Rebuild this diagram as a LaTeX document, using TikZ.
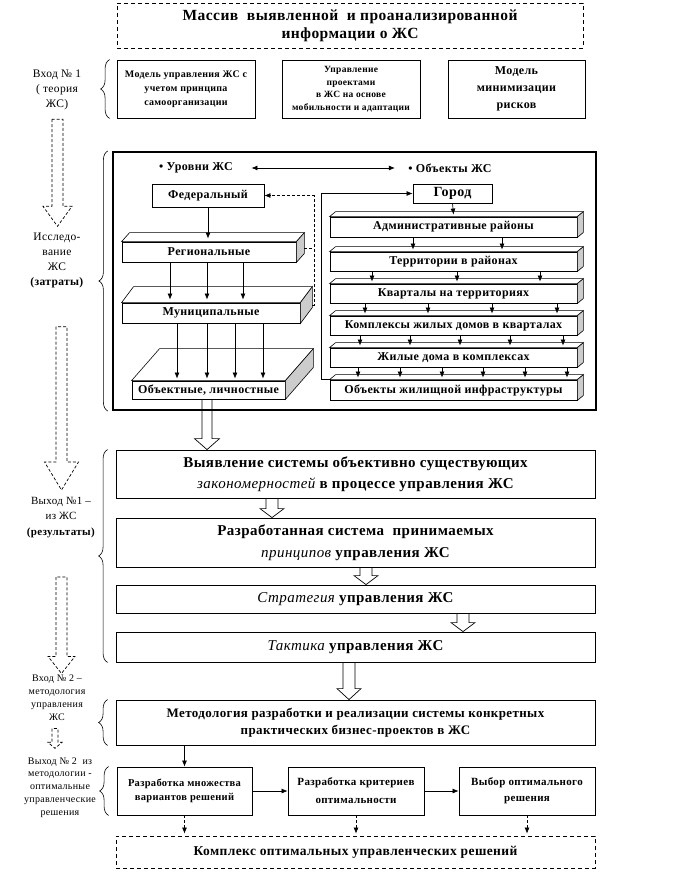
\documentclass[tikz,border=0pt]{standalone}
\usepackage{fontspec}
\setmainfont{Liberation Serif}
\newfontfamily\spfont{Liberation Serif}[LetterSpace=3]
\usepackage{tikz}
\usetikzlibrary{arrows.meta, calc}
\usetikzlibrary{decorations.pathreplacing}
\newcommand\fs[2]{\fontsize{#1}{#2}\selectfont}
\newcommand\ital[1]{{\mdseries\itshape #1}}

\begin{document}
\begin{tikzpicture}[x=1pt,y=-1pt,
    box/.style={draw, line width=0.8pt, align=center, inner sep=0pt},
    dbox/.style={box, dash pattern=on 4pt off 3pt},
    flat/.style={box, fill=white, font=\spfont\bfseries\fs{12}{14}},
    topf/.style={draw, line width=0.6pt, fill=white},
    side/.style={draw, line width=0.6pt, fill=gray!40},
    lab/.style={align=center, inner sep=1pt, font=\spfont\fs{11.5}{15}},
    slab/.style={align=center, inner sep=1pt, font=\spfont\fs{10}{13}},
    arr/.style={-{Latex[length=6pt,width=5pt]}, line width=0.7pt},
    dline/.style={line width=0.7pt, dash pattern=on 3pt off 2pt},
    blk/.style={line width=0.7pt},
    dblk/.style={line width=0.7pt, dash pattern=on 3pt off 2pt},
    brc/.style={line width=0.6pt, decorate, decoration={brace, amplitude=9pt, aspect=0.5}}]
  \newcommand\threed[3]{%
    \draw[topf] (#1.north west) -- ++(#2,-#3) -- ([shift={(#2,-#3)}]#1.north east) -- (#1.north east) -- cycle;
    \draw[side] (#1.north east) -- ++(#2,-#3) -- ([shift={(#2,-#3)}]#1.south east) -- (#1.south east) -- cycle;}
  \newcommand\blockarrow[7]{%
    \draw[#1] let \p1=(#3), \p2=(#4) in
      (#2pt-#5pt,\y1) -- (#2pt-#5pt,\y2+#7pt) -- (#2pt-#6pt,\y2+#7pt) -- (#2pt,\y2)
      -- (#2pt+#6pt,\y2+#7pt) -- (#2pt+#5pt,\y2+#7pt) -- (#2pt+#5pt,\y1) -- cycle;}
  \useasboundingbox (0,0) rectangle (677,877);

  % top: input data and theory
  \node[dbox, minimum width=466pt, minimum height=45pt, font=\spfont\bfseries\fs{15.5}{18}] (info) at (350,25.5)
    {Массив \ выявленной \ и проанализированной\\информации о ЖС};
  \node[box, minimum width=138pt, minimum height=58pt, font=\spfont\bfseries\fs{10}{14}] (m1) at (186,89)
    {Модель управления ЖС с\\учетом принципа\\самоорганизации};
  \node[box, minimum width=138pt, minimum height=58pt, font=\spfont\bfseries\fs{9.5}{12.5}] (m2) at (351,89)
    {Управление\\проектами\\в ЖС на основе\\мобильности и адаптации};
  \node[box, minimum width=137pt, minimum height=58pt, font=\spfont\bfseries\fs{12}{17}] (m3) at (516.5,89)
    {Модель\\минимизации\\рисков};

  % research block
  \node[draw, line width=2.2pt, minimum width=483pt, minimum height=258pt] (zs) at (354.5,281) {};
  \node[font=\spfont\bfseries\fs{12}{14}] (lev) at (196,168) {• Уровни ЖС};
  \node[font=\spfont\bfseries\fs{12}{14}] (obj) at (450,168) {• Объекты ЖС};
  \draw[{Latex[length=6pt,width=5pt]}-{Latex[length=6pt,width=5pt]}, line width=0.7pt,
    shorten <=15pt, shorten >=10pt] (lev.east) -- (obj.west);

  % levels
  \node[flat, minimum width=112pt, minimum height=23pt] (fed) at (208,195.5) {Федеральный};
  \node[flat, minimum width=174pt, minimum height=20pt] (reg) at (209,252) {Региональные};
  \threed{reg}{8}{9}
  \node[flat, minimum width=178pt, minimum height=20pt] (mun) at (211,313) {Муниципальные};
  \threed{mun}{12}{16}
  \node[flat, minimum width=153pt, minimum height=18pt] (oblich) at (208.5,390) {Объектные, личностные};
  \threed{oblich}{28}{32}
  \draw[arr] (fed.south) -- ([yshift=3pt]fed.south |- reg.north);
  \foreach \x in {170,207,243}
    \draw[arr] (reg.south -| \x,0) -- ([yshift=3pt]mun.north -| \x,0);
  \foreach \x in {177,207,235,263}
    \draw[arr] (mun.south -| \x,0) -- ([yshift=2pt]oblich.north -| \x,0);
  \coordinate (dv) at (314,0);
  \coordinate (regside) at ([shift={(8,-4)}]reg.east);
  \draw[dline, arr] ([shift={(12,-8)}]mun.east) -| (dv |- fed.east) -- (fed.east);
  \draw[dline] (regside) -- (dv |- regside);

  % objects
  \node[flat, minimum width=79pt, minimum height=19pt, font=\spfont\bfseries\fs{14}{16}] (gorod) at (452.5,193.5) {Город};
  \node[flat, minimum width=247pt, minimum height=20pt] (r1) at (453.5,227) {Административные районы};
  \threed{r1}{6}{5}
  \node[flat, minimum width=247pt, minimum height=19pt] (r2) at (453.5,261.5) {Территории в районах};
  \threed{r2}{6}{5}
  \node[flat, minimum width=247pt, minimum height=19pt] (r3) at (453.5,293.5) {Кварталы на территориях};
  \threed{r3}{6}{5}
  \node[flat, minimum width=247pt, minimum height=19pt] (r4) at (453.5,325.5) {Комплексы жилых домов в кварталах};
  \threed{r4}{6}{5}
  \node[flat, minimum width=247pt, minimum height=19pt] (r5) at (453.5,357.5) {Жилые дома в комплексах};
  \threed{r5}{6}{5}
  \node[flat, minimum width=247pt, minimum height=20pt] (r6) at (453.5,390) {Объекты жилищной инфраструктуры};
  \threed{r6}{6}{5}
  \draw[arr] (gorod.south) -- ([yshift=2pt]r1.north);
  \foreach \x in {413,502}
    \draw[arr] (r1.south -| \x,0) -- ([yshift=2pt]r2.north -| \x,0);
  \foreach \x in {372,457,540}
    \draw[arr] (r2.south -| \x,0) -- ([yshift=2pt]r3.north -| \x,0);
  \foreach \x in {365,428,492,557}
    \draw[arr] (r3.south -| \x,0) -- ([yshift=2pt]r4.north -| \x,0);
  \foreach \x in {360,410,460,510,563}
    \draw[arr] (r4.south -| \x,0) -- ([yshift=2pt]r5.north -| \x,0);
  \foreach \x in {358,400,442,483,525,567}
    \draw[arr] (r5.south -| \x,0) -- ([yshift=2pt]r6.north -| \x,0);
  \draw[arr] (r6.north west) -- ++(-8,0) |- (gorod.west);

  % results
  \node[box, minimum width=479pt, minimum height=48pt, font=\spfont\bfseries\fs{15}{21}] (vyyavl) at (355.5,474)
    {Выявление системы объективно существующих\\\ital{закономерностей} в процессе управления ЖС};
  \node[box, minimum width=479pt, minimum height=49pt, font=\spfont\bfseries\fs{15}{22}] (princ) at (355.5,542.5)
    {Разработанная система \ принимаемых\\\ital{принципов} управления ЖС};
  \node[box, minimum width=479pt, minimum height=28pt, font=\spfont\bfseries\fs{15}{17}] (strat) at (355.5,599)
    {\ital{Стратегия} управления ЖС};
  \node[box, minimum width=479pt, minimum height=30pt, font=\spfont\bfseries\fs{15}{17}] (takt) at (355.5,647)
    {\ital{Тактика} управления ЖС};
  \blockarrow{blk}{207}{oblich.south}{vyyavl.north}{5}{12.5}{11}
  \blockarrow{blk}{272}{vyyavl.south}{princ.north}{6}{12}{9}
  \blockarrow{blk}{366}{princ.south}{strat.north}{6}{12}{9}
  \blockarrow{blk}{463}{strat.south}{takt.north}{6}{12}{9}

  % methodology
  \node[box, minimum width=479pt, minimum height=45pt, font=\spfont\bfseries\fs{13}{17}] (metod) at (355.5,722.5)
    {Методология разработки и реализации системы конкретных\\практических бизнес-проектов в ЖС};
  \blockarrow{blk}{349}{takt.south}{metod.north}{6}{12}{11}
  \node[box, minimum width=135pt, minimum height=48pt, font=\spfont\bfseries\fs{10.5}{14}] (f1) at (184.5,791)
    {Разработка множества\\вариантов решений};
  \node[box, minimum width=136pt, minimum height=48pt, font=\spfont\bfseries\fs{11}{18}] (f2) at (356,791)
    {Разработка критериев\\оптимальности};
  \node[box, minimum width=136pt, minimum height=48pt, font=\spfont\bfseries\fs{11}{16}] (f3) at (527,791)
    {Выбор оптимального\\решения};
  \node[dbox, minimum width=479pt, minimum height=32pt, font=\spfont\bfseries\fs{13.5}{15}] (kompl) at (355.5,852)
    {Комплекс оптимальных управленческих решений};
  \draw[arr] (metod.south -| f1.north) -- (f1.north);
  \draw[arr] (f1.east) -- (f2.west);
  \draw[arr] (f2.east) -- (f3.west);
  \foreach \n in {f1,f2,f3}
    \draw[dline, arr, shorten >=2pt] (\n.south) -- (\n.south |- kompl.north);

  % left column
  \node[lab] (vhod1) at (57,90) {Вход № 1\\( теория\\ЖС)};
  \node[lab] (issl) at (57,260) {Исследо-\\вание\\ЖС\\\textbf{(затраты)}};
  \node[lab, font=\spfont\fs{11}{15.5}] (vyhod1) at (61,517.5) {Выход №1 –\\из ЖС\\\textbf{(результаты)}};
  \node[slab] (vhod2) at (57,697.5) {Вход № 2 –\\методология\\управления\\ЖС};
  \node[slab, font=\spfont\fs{10}{12.8}] (vyhod2) at (60,787.5)
    {Выход № 2 \ из\\методологии -\\оптимальные\\управленческие\\решения};
  \blockarrow{dblk}{57.5}{[yshift=-8pt]vhod1.south}{[yshift=5pt]issl.north}{5.5}{14.5}{20}
  \blockarrow{dblk}{61.5}{[yshift=-38pt]issl.south}{[yshift=6pt]vyhod1.north}{5.5}{17}{28}
  \blockarrow{dblk}{61.5}{[yshift=-38pt]vyhod1.south}{vhod2.north}{5.5}{13.5}{17}
  \blockarrow{dblk}{55}{[yshift=-7pt]vhod2.south}{[yshift=8pt]vyhod2.north}{3}{7}{6}

  % braces
  \draw[brc] ([xshift=-7pt]m1.south west) -- ([xshift=-7pt]m1.north west);
  \draw[brc] ([xshift=-4pt]zs.south west) -- ([xshift=-4pt]zs.north west);
  \draw[brc] ([xshift=-8pt]takt.south west) -- ([xshift=-8pt]vyyavl.north west);
  \draw[brc] ([xshift=-8pt]metod.south west) -- ([xshift=-8pt]metod.north west);
  \draw[brc] ([xshift=-8pt]f1.south west) -- ([xshift=-8pt]f1.north west);
\end{tikzpicture}
\end{document}
